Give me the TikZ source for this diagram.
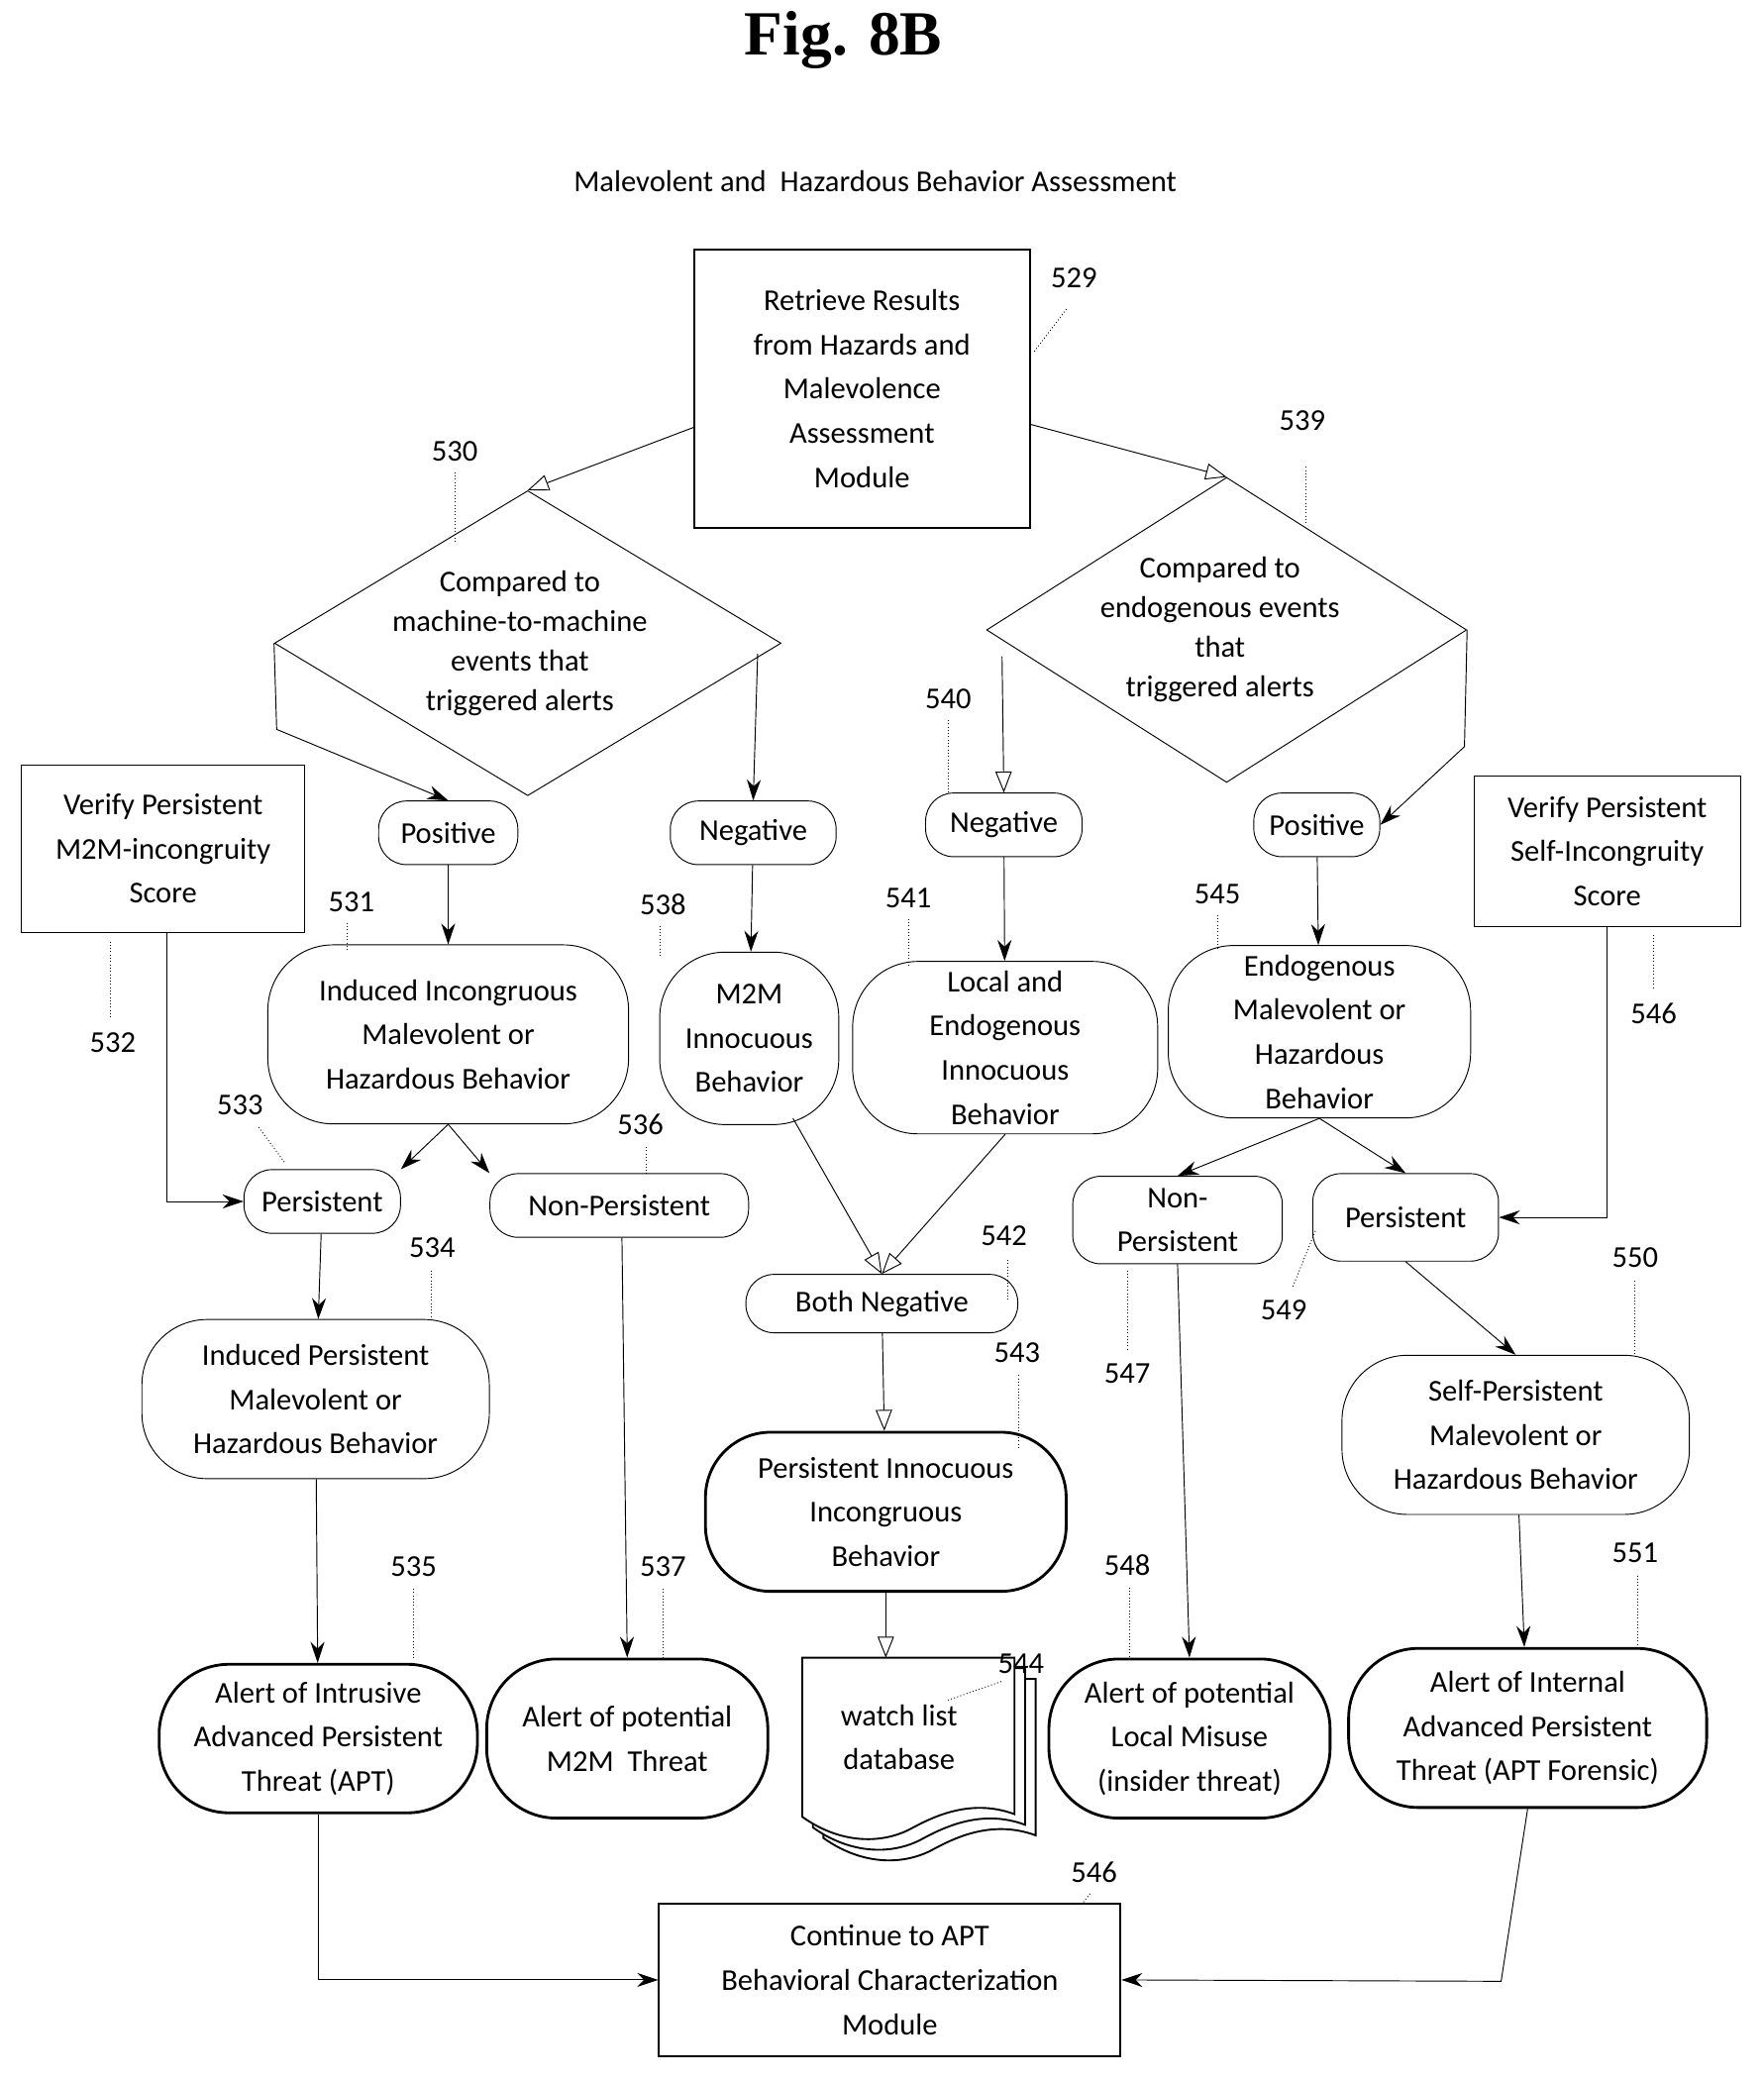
\documentclass[tikz,border=0pt]{standalone}
\usepackage{fontspec}
\setmainfont{Carlito}
\newfontfamily\titlefont{Liberation Serif}
\usetikzlibrary{shapes.geometric,arrows.meta}
\newcommand{\pxl}[1]{#1*0.02cm}

\begin{document}
\begin{tikzpicture}[x=0.02cm,y=-0.02cm,
	font=\fontsize{13}{19}\selectfont,
	box/.style={draw,thick,align=center,inner sep=2pt},
	term/.style={draw,rounded corners=12pt,align=center,inner sep=1pt},
	oval/.style={draw,rounded corners=28pt,align=center,inner sep=1pt},
	alert/.style={draw,very thick,rounded corners=30pt,align=center,inner sep=1pt},
	dec/.style={draw,diamond,align=center,inner sep=0pt},
	num/.style={inner sep=1pt},
	lead/.style={densely dotted},
	arr/.style={-{Stealth[length=9pt,width=6pt]}},
	oarr/.style={-{Triangle[open,length=9pt,width=7pt]}}]
	\useasboundingbox (0,0) rectangle (1330,1570);
	% titles
	\node[font=\titlefont\bfseries\fontsize{27}{30}\selectfont] (title) at (636,30) {Fig. 8B};
	\node (subtitle) at (660,137) {Malevolent and \ Hazardous Behavior Assessment};
	% top
	\node[box,minimum width=\pxl{253},minimum height=\pxl{210}] (retrieve) at (650,293) {Retrieve Results\\from Hazards and\\Malevolence\\Assessment\\Module};
	\node[dec,minimum width=\pxl{382},minimum height=\pxl{230}] (cmpm) at (398,485) {};
	\node[align=center] at (392,485) {Compared to\\[-2pt]machine-to-machine\\[-2pt]events that\\[-2pt]triggered alerts};
	\node[dec,minimum width=\pxl{362},minimum height=\pxl{230}] (cmpe) at (925,475) {};
	\node[align=center] at (920,475) {Compared to\\[-2pt]endogenous events\\[-2pt]that\\[-2pt]triggered alerts};
	% second row
	\node[term,minimum width=\pxl{105},minimum height=\pxl{48}] (posl) at (338,628) {Positive};
	\node[term,minimum width=\pxl{125},minimum height=\pxl{48}] (negl) at (568,628) {Negative};
	\node[term,minimum width=\pxl{118},minimum height=\pxl{48}] (negr) at (757,622) {Negative};
	\node[term,minimum width=\pxl{95},minimum height=\pxl{48}] (posr) at (993,622) {Positive};
	\node[draw,align=center,minimum width=\pxl{214},minimum height=\pxl{126}] (verl) at (123,640) {Verify Persistent\\M2M-incongruity\\Score};
	\node[draw,align=center,minimum width=\pxl{201},minimum height=\pxl{113}] (verr) at (1212,642) {Verify Persistent\\Self-Incongruity\\Score};
	% behaviors
	\node[oval,minimum width=\pxl{272},minimum height=\pxl{135}] (induced) at (338,780) {Induced Incongruous\\Malevolent or\\Hazardous Behavior};
	\node[oval,minimum width=\pxl{135},minimum height=\pxl{130}] (m2m) at (565,783) {M2M\\Innocuous\\Behavior};
	\node[oval,minimum width=\pxl{230},minimum height=\pxl{130}] (local) at (758,790) {Local and\\Endogenous\\Innocuous\\Behavior};
	\node[oval,minimum width=\pxl{228},minimum height=\pxl{130}] (endo) at (995,778) {Endogenous\\Malevolent or\\Hazardous\\Behavior};
	% persistence
	\node[term,minimum width=\pxl{118},minimum height=\pxl{48}] (persl) at (243,906) {Persistent};
	\node[term,minimum width=\pxl{195},minimum height=\pxl{48}] (nonpl) at (467,909) {Non-Persistent};
	\node[term,minimum width=\pxl{205},minimum height=\pxl{44}] (bothneg) at (665,983) {Both Negative};
	\node[term,minimum width=\pxl{158},minimum height=\pxl{66}] (nonpr) at (888,920) {Non-\\Persistent};
	\node[term,minimum width=\pxl{140},minimum height=\pxl{66}] (persr) at (1060,918) {Persistent};
	\node[oval,minimum width=\pxl{262},minimum height=\pxl{120}] (indpers) at (238,1055) {Induced Persistent\\Malevolent or\\Hazardous Behavior};
	\node[oval,very thick,minimum width=\pxl{272},minimum height=\pxl{120}] (perinn) at (668,1140) {Persistent Innocuous\\Incongruous\\Behavior};
	\node[oval,minimum width=\pxl{262},minimum height=\pxl{120}] (selfpers) at (1143,1082) {Self-Persistent\\Malevolent or\\Hazardous Behavior};
	% alerts
	\node[alert,minimum width=\pxl{240},minimum height=\pxl{112}] (aapt) at (240,1311) {Alert of Intrusive\\Advanced Persistent\\Threat (APT)};
	\node[alert,minimum width=\pxl{212},minimum height=\pxl{120}] (am2m) at (473,1311) {Alert of potential\\M2M \ Threat};
	\node[alert,minimum width=\pxl{212},minimum height=\pxl{120}] (alocal) at (897,1311) {Alert of potential\\Local Misuse\\(insider threat)};
	\node[alert,minimum width=\pxl{270},minimum height=\pxl{120}] (aint) at (1152,1303) {Alert of Internal\\Advanced Persistent\\Threat (APT Forensic)};
	% watch list database
	\foreach \d in {16,8} {
		\draw[fill=white,thick] (605+\d,1250+\d) -- (765+\d,1250+\d) -- (765+\d,1368+\d)
			.. controls (730+\d,1355+\d) and (700+\d,1372+\d) .. (685+\d,1380+\d)
			.. controls (660+\d,1392+\d) and (630+\d,1388+\d) .. (605+\d,1370+\d) -- cycle;
	}
	\draw[fill=white,thick] (605,1250) -- (765,1250) -- (765,1368)
		.. controls (730,1355) and (700,1372) .. (685,1380)
		.. controls (660,1392) and (630,1388) .. (605,1370) -- cycle;
	\node[align=center] (watch) at (678,1310) {watch list\\database};
	\coordinate (watchtop) at (668,1250);
	\node[box,minimum width=\pxl{348},minimum height=\pxl{115}] (cont) at (671,1493) {Continue to APT\\Behavioral Characterization\\Module};
	% connectors
	\draw[oarr] (retrieve.193) -- (cmpm.north);
	\draw[oarr] (retrieve.-12) -- (cmpe.north);
	\draw[arr] (cmpm.west) -- ++(2,65) -- (posl.north);
	\draw[arr] (cmpm.east) ++(-18,8) -- (negl.north);
	\draw[oarr] (cmpe.west) ++(12,20) -- (negr.north);
	\draw[arr] (cmpe.east) -- ++(-2,88) -- (posr.east);
	\draw[arr] (verl.south) ++(3,0) |- (persl.west);
	\draw[arr] (verr.south) |- (persr.east);
	\draw[arr] (posl) -- (induced);
	\draw[arr] (negl) -- (m2m);
	\draw[arr] (negr) -- (local);
	\draw[arr] (posr) -- (endo);
	\draw[arr] (induced.south) -- (persl.north east);
	\draw[arr] (induced.south) -- (nonpl.north west);
	\draw[oarr] (m2m.south) ++(33,-5) -- (bothneg.north);
	\draw[oarr] (local.south) -- (bothneg.north);
	\draw[oarr] (bothneg) -- (perinn);
	\draw[oarr] (perinn) -- (watchtop);
	\draw[arr] (endo.south) -- (nonpr.north);
	\draw[arr] (endo.south) -- (persr.north);
	\draw[arr] (persl) -- (indpers);
	\draw[arr] (indpers) -- (aapt);
	\draw[arr] (nonpl.south) ++(2,0) -- (am2m.north);
	\draw[arr] (nonpr.south) -- (alocal.north);
	\draw[arr] (persr.south) -- (selfpers.north);
	\draw[arr] (selfpers) -- (aint);
	\draw[arr] (aapt.south) |- (cont.west);
	\draw[arr] (aint.south) -- ++(-20,130) -- (cont.east);
	% reference numbers
	\node[num] (n529) at (810,210) {529};
	\draw[lead] (780,265) -- (805,232);
	\node[num] (n530) at (343,340) {530};
	\draw[lead] (343,356) -- (343,408);
	\node[num] (n539) at (982,317) {539};
	\draw[lead] (985,352) -- (985,395);
	\node[num] (n540) at (715,527) {540};
	\draw[lead] (715,543) -- (715,598);
	\node[num] (n531) at (265,680) {531};
	\draw[lead] (262,696) -- (262,718);
	\node[num] (n538) at (500,682) {538};
	\draw[lead] (498,698) -- (498,722);
	\node[num] (n541) at (685,677) {541};
	\draw[lead] (685,693) -- (685,728);
	\node[num] (n545) at (918,674) {545};
	\draw[lead] (918,690) -- (918,715);
	\node[num] (n532) at (85,786) {532};
	\draw[lead] (83,710) -- (83,768);
	\node[num] (n546a) at (1247,764) {546};
	\draw[lead] (1247,705) -- (1247,745);
	\node[num] (n533) at (181,833) {533};
	\draw[lead] (195,850) -- (215,877);
	\node[num] (n536) at (483,848) {536};
	\draw[lead] (487,865) -- (487,885);
	\node[num] (n534) at (326,941) {534};
	\draw[lead] (325,958) -- (325,995);
	\node[num] (n542) at (757,932) {542};
	\draw[lead] (760,950) -- (760,980);
	\node[num] (n543) at (767,1020) {543};
	\draw[lead] (768,1037) -- (768,1092);
	\node[num] (n547) at (850,1036) {547};
	\draw[lead] (850,958) -- (850,1018);
	\node[num] (n549) at (968,988) {549};
	\draw[lead] (975,970) -- (992,928);
	\node[num] (n550) at (1233,948) {550};
	\draw[lead] (1233,966) -- (1233,1022);
	\node[num] (n535) at (312,1181) {535};
	\draw[lead] (312,1198) -- (312,1252);
	\node[num] (n537) at (500,1181) {537};
	\draw[lead] (500,1198) -- (500,1250);
	\node[num] (n548) at (850,1180) {548};
	\draw[lead] (852,1197) -- (852,1250);
	\node[num] (n551) at (1233,1171) {551};
	\draw[lead] (1235,1188) -- (1235,1243);
	\node[num] (n544) at (770,1255) {544};
	\draw[lead] (755,1268) -- (715,1282);
	\node[num] (n546b) at (825,1412) {546};
	\draw[lead] (822,1428) -- (815,1437);
\end{tikzpicture}
\end{document}
